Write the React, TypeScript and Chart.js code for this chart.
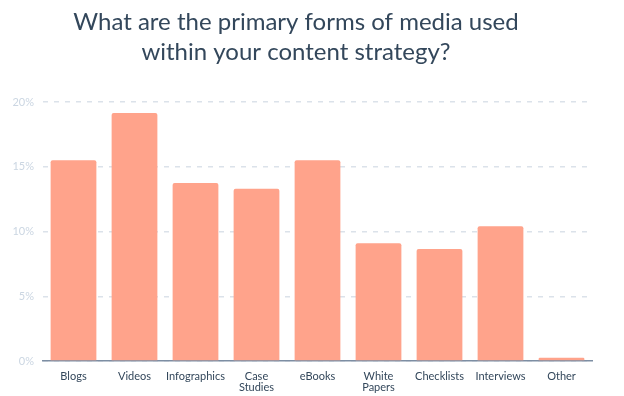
import React, { useEffect, useRef } from "react";
import { Chart, registerables } from "chart.js";

Chart.register(...registerables);

const titleLines = [
  "What are the primary forms of media used",
  "within your content strategy?",
];
const categories: (string | string[])[] = [
  "Blogs",
  "Videos",
  "Infographics",
  ["Case", "Studies"],
  "eBooks",
  ["White", "Papers"],
  "Checklists",
  "Interviews",
  "Other",
];
const shares = [15.5, 19.15, 13.75, 13.3, 15.5, 9.1, 8.65, 10.4, 0.25];
const yTicks = [0, 5, 10, 15, 20];

export default function App() {
  const ref = useRef<HTMLCanvasElement>(null);
  useEffect(() => {
    if (!ref.current) return;
    const chart = new Chart(ref.current, {
      type: "bar",
      data: {
        labels: categories,
        datasets: [
          {
            data: shares,
            backgroundColor: "#ffa38b",
            borderRadius: 2,
            barPercentage: 0.75,
            categoryPercentage: 1,
          },
        ],
      },
      options: {
        animation: false,
        responsive: false,
        maintainAspectRatio: false,
        layout: { padding: { left: 0, right: 32, top: 0, bottom: 0 } },
        plugins: {
          legend: { display: false },
          tooltip: { enabled: false },
          title: {
            display: true,
            text: titleLines,
            color: "#33475b",
            font: { family: "Lato", size: 24, weight: "normal", lineHeight: 1.25 },
            padding: { top: 7, bottom: 35 },
          },
        },
        scales: {
          x: {
            grid: { display: false, drawTicks: false },
            border: { display: true, color: "#7d8ea3", width: 1.5 },
            ticks: {
              color: "#33475b",
              font: { family: "Lato", size: 11, lineHeight: 1.0 },
              padding: 10,
              maxRotation: 0,
              autoSkip: false,
            },
            afterFit: (s: any) => {
              s.height = 35;
            },
          },
          y: {
            min: 0,
            max: 20,
            afterBuildTicks: (s: any) => {
              s.ticks = yTicks.map((v) => ({ value: v }));
            },
            grid: {
              color: "#dbe2ea",
              lineWidth: 1.5,
              drawTicks: false,
            },
            border: { display: false, dash: [5, 6] },
            ticks: {
              color: "#cbd6e2",
              font: { family: "Lato", size: 11 },
              padding: 9,
              callback: (v: any) => v + "%",
            },
            afterFit: (s: any) => {
              s.width = 43;
            },
          },
        },
      },
    });
    return () => chart.destroy();
  }, []);
  return (
    <div style={{ position: "absolute", left: 0, top: 0, width: 624, height: 396, background: "#fff" }}>
      <canvas ref={ref} width={624} height={396} style={{ width: 624, height: 396 }} />
    </div>
  );
}
